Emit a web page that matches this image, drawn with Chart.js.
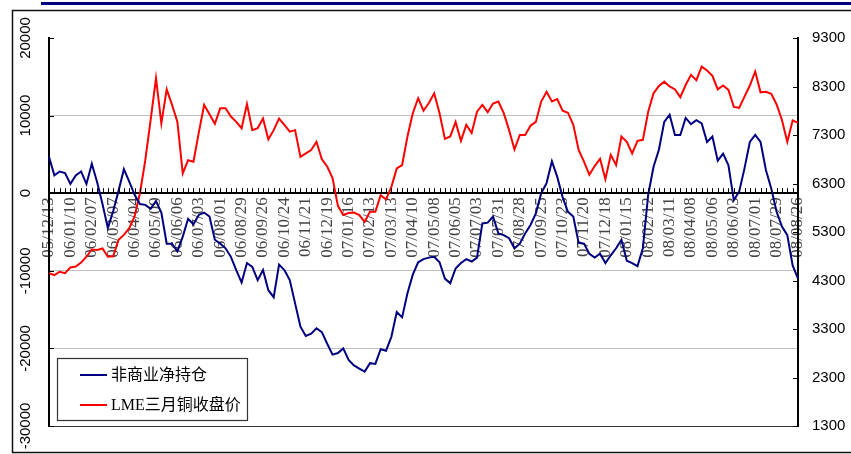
<!DOCTYPE html>
<html lang="zh">
<head>
<meta charset="UTF-8">
<title>非商业净持仓与LME三月铜收盘价</title>
<style>
  html, body { margin: 0; padding: 0; background: #fff; }
  canvas { display: block; }
</style>
</head>
<body>
<canvas id="myChart" width="851" height="454"></canvas>

<script src="https://cdn.jsdelivr.net/npm/chart.js"></script>
<script>
// x-axis labels, one every four weeks
const tickLabels = [
  '05/12/13', '06/01/10', '06/02/07', '06/03/07', '06/04/04', '06/05/09',
  '06/06/06', '06/07/03', '06/08/01', '06/08/29', '06/09/26', '06/10/24',
  '06/11/21', '06/12/19', '07/01/16', '07/02/13', '07/03/13', '07/04/10',
  '07/05/08', '07/06/05', '07/07/03', '07/07/31', '07/08/28', '07/09/25',
  '07/10/23', '07/11/20', '07/12/18', '08/01/15', '08/02/12', '08/03/11',
  '08/04/08', '08/05/06', '08/06/03', '08/07/01', '08/07/29', '08/08/26'
];

// 非商业净持仓 (weekly, left axis)
const netPosition = [
  4700, 2300, 2800, 2600, 1200, 2300, 2800, 1200, 3800, 1400,
  -1400, -4500, -2300, 300, 3100, 1500, -200, -1400, -1500, -2000,
  -1000, -2500, -6500, -6500, -7500, -5600, -3300, -4000, -2800, -2500,
  -3000, -6000, -6500, -7100, -8200, -9900, -11500, -9000, -9500, -11200,
  -9900, -12500, -13400, -9200, -9900, -11200, -14200, -17200, -18400, -18100,
  -17400, -17900, -19400, -20800, -20600, -20000, -21500, -22200, -22600, -23000,
  -21900, -22000, -20100, -20300, -18500, -15300, -16000, -12900, -10500, -8900,
  -8500, -8300, -8200, -8900, -11000, -11600, -9700, -9000, -8500, -8800,
  -8300, -3900, -3800, -3000, -5200, -5400, -5800, -7100, -6500, -5200,
  -4100, -2600, 0, 1300, 4100, 2100, -500, -2400, -3000, -6400,
  -6500, -7800, -8300, -7800, -9000, -8000, -7100, -6000, -8700, -9000,
  -9400, -7100, -200, 3400, 5600, 9200, 10100, 7500, 7500, 9700,
  8900, 9400, 9000, 6600, 7300, 4200, 5100, 3600, -900, 200,
  3200, 6600, 7500, 6600, 3000, 600, -2400, -4300, -5400, -9300,
  -11000
];

// LME三月铜收盘价 (weekly, right axis)
const lmePrice = [
  4450, 4410, 4480, 4450, 4570, 4590, 4670, 4790, 4940, 4930,
  4960, 4790, 4800, 5140, 5240, 5380, 5620, 6100, 6780, 7610,
  8470, 7540, 8240, 7920, 7570, 6510, 6780, 6750, 7350, 7920,
  7730, 7530, 7850, 7850, 7680, 7570, 7440, 7940, 7400, 7440,
  7640, 7210, 7400, 7640, 7510, 7370, 7400, 6850, 6920, 6990,
  7160, 6800, 6650, 6410, 5840, 5650, 5690, 5700, 5650, 5510,
  5720, 5720, 6060, 5970, 6230, 6610, 6680, 7270, 7750, 8060,
  7800, 7960, 8160, 7750, 7220, 7270, 7570, 7180, 7510, 7340,
  7780, 7920, 7770, 7950, 7990, 7750, 7400, 7000, 7300, 7300,
  7490, 7570, 7990, 8190, 7990, 8040, 7800, 7760, 7510, 6990,
  6750, 6480, 6660, 6810, 6390, 6890, 6680, 7270, 7160, 6920,
  7180, 7200, 7780, 8160, 8310, 8400, 8300, 8240, 8080, 8330,
  8540, 8430, 8710, 8630, 8520, 8240, 8320, 8230, 7880, 7860,
  8090, 8320, 8610, 8180, 8190, 8150, 7930, 7610, 7160, 7600,
  7550
];

const leftTicks = [20000, 10000, 0, -10000, -20000, -30000];

// every week is a category; only every fourth one carries a label
const labels = netPosition.map((v, i) => (i % 4 === 0 ? tickLabels[i / 4] : ''));

// white page, outer frame and the navy rule across the top
const framePlugin = {
  id: 'frame',
  beforeDraw(chart) {
    const c = chart.ctx;
    c.save();
    c.fillStyle = '#fff';
    c.fillRect(0, 0, chart.width, chart.height);
    c.fillStyle = '#000080';
    c.fillRect(41, 2, 810, 3);
    c.strokeStyle = '#111';
    c.lineWidth = 1.5;
    c.strokeRect(12.5, 10.5, 900, 442);
    c.restore();
  }
};

// inward tick marks on all three axes, plus the legend box
const decorPlugin = {
  id: 'decor',
  afterDraw(chart) {
    const c = chart.ctx;
    const {x, y, y1} = chart.scales;
    const area = chart.chartArea;
    c.save();
    c.strokeStyle = '#000';
    c.lineWidth = 1;
    c.beginPath();
    labels.forEach((l, i) => {
      const px = Math.round(x.getPixelForValue(i)) + 0.5;
      const py = y.getPixelForValue(0);
      c.moveTo(px, py);
      c.lineTo(px, py - 5);
    });
    leftTicks.forEach(v => {
      const py = Math.round(y.getPixelForValue(v)) + 0.5;
      c.moveTo(area.left, py);
      c.lineTo(area.left + 5, py);
    });
    for (let v = 1300; v <= 9300; v += 1000) {
      const py = Math.round(y1.getPixelForValue(v)) + 0.5;
      c.moveTo(area.right, py);
      c.lineTo(area.right - 5, py);
    }
    c.stroke();

    // legend
    c.fillStyle = '#fff';
    c.fillRect(57, 358, 191, 62);
    c.strokeStyle = '#333';
    c.lineWidth = 1.2;
    c.strokeRect(57.5, 358.5, 190, 62);
    c.font = '16px "Liberation Serif", "Noto Sans CJK SC", serif';
    c.textBaseline = 'middle';
    chart.data.datasets.forEach((ds, k) => {
      const ly = 375 + k * 30;
      c.strokeStyle = ds.borderColor;
      c.lineWidth = 2;
      c.beginPath();
      c.moveTo(80, ly);
      c.lineTo(107, ly);
      c.stroke();
      c.fillStyle = '#000';
      c.fillText(ds.label, 111, ly + 1);
    });
    c.restore();
  }
};

const ctx = document.getElementById('myChart');
new Chart(ctx, {
  type: 'line',
  data: {
    labels: labels,
    datasets: [
      {
        label: '非商业净持仓',
        data: netPosition,
        borderColor: '#000080',
        borderWidth: 2,
        pointRadius: 0,
        tension: 0,
        yAxisID: 'y'
      },
      {
        label: 'LME三月铜收盘价',
        data: lmePrice,
        borderColor: '#ff0000',
        borderWidth: 2,
        pointRadius: 0,
        tension: 0,
        yAxisID: 'y1'
      }
    ]
  },
  options: {
    responsive: false,
    animation: false,
    layout: { padding: { left: 12, top: 38, right: 0, bottom: 28 } },
    plugins: {
      legend: { display: false },
      tooltip: { enabled: false }
    },
    scales: {
      x: {
        type: 'category',
        position: { y: 0 },
        offset: false,
        grid: { display: false, drawTicks: false },
        border: { display: true, color: '#000', width: 2 },
        ticks: {
          autoSkip: false,
          minRotation: 90,
          maxRotation: 90,
          padding: 4,
          color: '#444',
          font: { family: '"Liberation Serif", serif', size: 17 }
        },
        afterFit: s => { s.paddingLeft = 0; s.paddingRight = 0; }
      },
      y: {
        position: 'left',
        min: -30000,
        max: 20000,
        ticks: {
          stepSize: 10000,
          minRotation: 90,
          maxRotation: 90,
          crossAlign: 'center',
          padding: 0,
          color: '#000',
          font: { family: '"Liberation Sans", Arial, sans-serif', size: 15 },
          callback: v => String(v)
        },
        grid: {
          drawTicks: false,
          lineWidth: 1,
          color: c => {
            const v = c.tick && c.tick.value;
            if (v === 20000) return 'rgba(0,0,0,0)';
            if (v === -30000) return '#333';
            return '#c0c0c0';
          }
        },
        border: { color: '#000', width: 2 },
        afterFit: s => { s.width = 37; s.paddingTop = 0; s.paddingBottom = 0; }
      },
      y1: {
        position: 'right',
        min: 1300,
        max: 9300,
        ticks: {
          stepSize: 1000,
          padding: 14,
          color: '#000',
          font: { family: '"Liberation Sans", Arial, sans-serif', size: 15 },
          callback: v => String(v)
        },
        grid: { display: false, drawTicks: false },
        border: { color: '#000', width: 2 },
        afterFit: s => { s.width = 53; s.paddingTop = 0; s.paddingBottom = 0; }
      }
    }
  },
  plugins: [framePlugin, decorPlugin]
});
</script>
</body>
</html>
